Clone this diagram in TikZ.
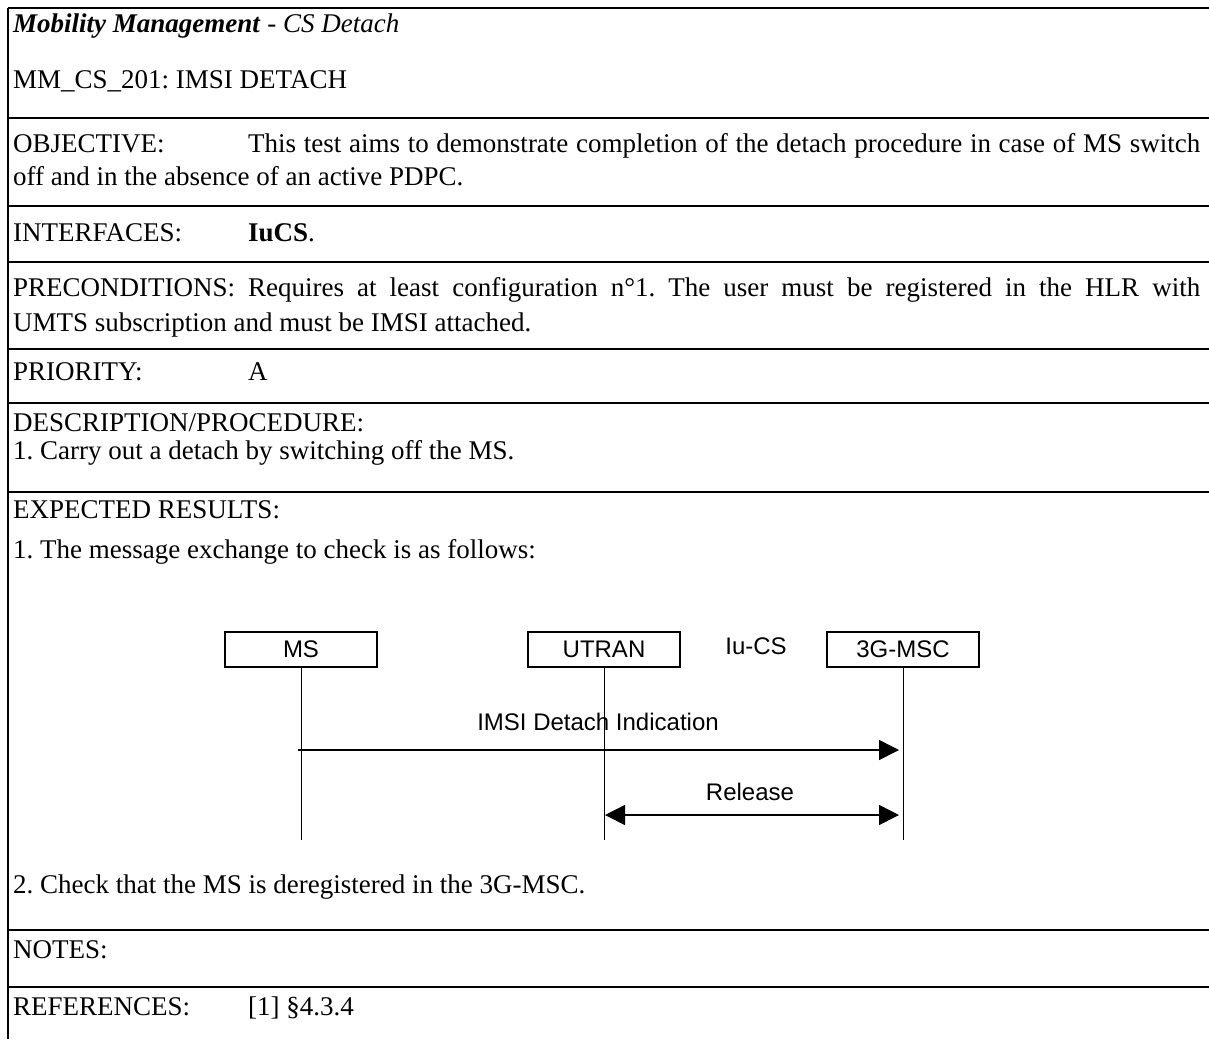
\documentclass[tikz,border=0pt]{standalone}
\usepackage{fontspec}
\setmainfont{Liberation Serif}
\newfontfamily\sansfnt{Liberation Sans}
\usetikzlibrary{arrows.meta}

\tikzset{
    rule/.style={line width=1.8pt},
    txt/.style={anchor=base west, inner sep=0pt, font=\fontsize{27}{32}\selectfont},
    entity/.style={draw, line width=1.2pt, minimum width=152pt, minimum height=35pt,
        inner sep=0pt, font=\sansfnt\fontsize{24}{28}\selectfont},
    lbl/.style={inner sep=0pt, font=\sansfnt\fontsize{24}{28}\selectfont},
    life/.style={line width=1pt},
    msg/.style={line width=1.5pt, -{Triangle[length=20pt,width=20pt]}},
    dmsg/.style={line width=1.5pt,
        {Triangle[length=20pt,width=20pt]}-{Triangle[length=20pt,width=20pt]}}
}
\newcommand{\fieldlabel}[1]{\makebox[235pt][l]{#1}}
\frenchspacing

\begin{document}
\begin{tikzpicture}[x=1pt, y=-1pt]
    \useasboundingbox (0,0) rectangle (1209,1039);

    % frame of the test sheet
    \draw[rule] (8,8) -- (8,1039);
    \foreach \y in {8,118,206,262,349,403,492,930,987}
        \draw[rule] (8,\y) -- (1209,\y);

    \node[txt] (title) at (13,32) {\textbf{\textit{Mobility Management}}\textit{ - CS Detach}};
    \node[txt] (testid) at (13,88) {MM\_CS\_201: IMSI DETACH};

    \node[txt] (objA) at (13,152) {\makebox[1187pt][s]{\fieldlabel{OBJECTIVE:}This test aims to demonstrate completion of the detach procedure in case of MS switch}};
    \node[txt] (objB) at (13,185) {off and in the absence of an active PDPC.};

    \node[txt] (iface) at (13,241) {\fieldlabel{INTERFACES:}\textbf{IuCS}.};

    \node[txt] (precA) at (13,296) {\makebox[1187pt][s]{\fieldlabel{PRECONDITIONS:}Requires at least configuration n°1. The user must be registered in the HLR with}};
    \node[txt] (precB) at (13,331) {UMTS subscription and must be IMSI attached.};

    \node[txt] (prio) at (13,380) {\fieldlabel{PRIORITY:}A};

    \node[txt] (descA) at (13,431) {DESCRIPTION/PROCEDURE:};
    \node[txt] (descB) at (13,459) {1. Carry out a detach by switching off the MS.};

    \node[txt] (expA) at (13,518) {EXPECTED RESULTS:};
    \node[txt] (expB) at (13,558) {1. The message exchange to check is as follows:};

    % message sequence
    \node[entity] (ms) at (301,649.5) {MS};
    \node[entity] (utran) at (604,649.5) {UTRAN};
    \node[entity] (msc) at (903,649.5) {3G-MSC};
    \node[lbl] (iucs) at (756,646) {Iu-CS};

    \coordinate (msEnd) at (301,840);
    \coordinate (utranEnd) at (604,840);
    \coordinate (mscEnd) at (903,840);
    \draw[life] (ms) -- (msEnd);
    \draw[life] (utran) -- (utranEnd);
    \draw[life] (msc) -- (mscEnd);

    \draw[msg, shorten <=-3pt, shorten >=4pt] (ms.south |- 0,750) -- (msc.south |- 0,750);
    \node[lbl] (detach) at (598,722) {IMSI Detach Indication};

    \draw[dmsg, shorten <=1pt, shorten >=4pt] (utran.south |- 0,815) -- (msc.south |- 0,815);
    \node[lbl] (release) at (750,792) {Release};

    \node[txt] (expC) at (13,893) {2. Check that the MS is deregistered in the 3G-MSC.};

    \node[txt] (notes) at (13,958) {NOTES:};
    \node[txt] (refs) at (13,1015) {\fieldlabel{REFERENCES:}[1] §4.3.4};
\end{tikzpicture}
\end{document}
